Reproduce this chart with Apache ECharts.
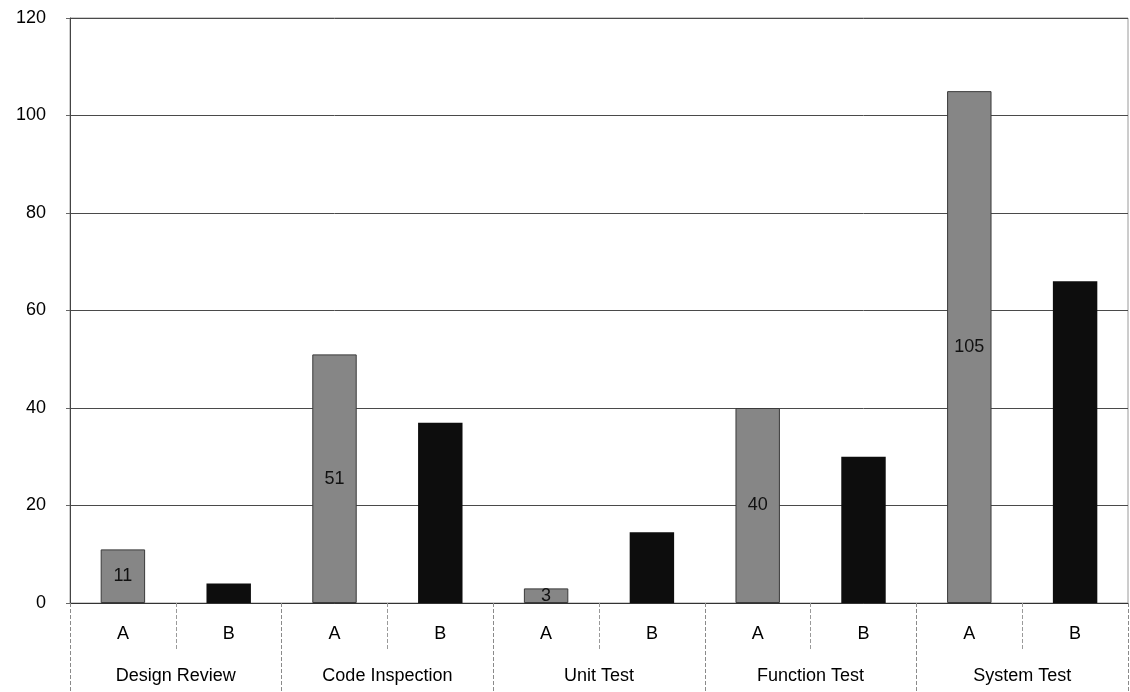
<!DOCTYPE html>
<html>
<head>
<meta charset="utf-8">
<title>Defects by phase</title>
<script src="https://cdn.jsdelivr.net/npm/echarts@6/dist/echarts.min.js"></script>
<style>
  html, body { margin: 0; padding: 0; background: #ffffff; }
  #chart { width: 1130px; height: 692px; }
</style>
</head>
<body>
<div id="chart"></div>
<script>
// Phases, each with an A and a B bar
const phases = ['Design Review', 'Code Inspection', 'Unit Test', 'Function Test', 'System Test'];
const subLabels = ['A', 'B'];
const valuesA = [11, 51, 3, 40, 105];
const valuesB = [4, 37, 14.5, 30, 66];
const yTicks = [0, 20, 40, 60, 80, 100, 120];

// One category per bar: A, B, A, B, ...
const barCategories = [];
const dataA = [];
const dataB = [];
phases.forEach((p, i) => {
  barCategories.push(subLabels[0], subLabels[1]);
  dataA.push(valuesA[i], '-');
  dataB.push('-', valuesB[i]);
});

const font = 'Liberation Sans, Arial, Helvetica, sans-serif';
const chart = echarts.init(document.getElementById('chart'));

chart.setOption({
  backgroundColor: '#ffffff',
  animation: false,
  grid: {
    left: 70, right: 2, top: 18, bottom: 89,
    show: true, borderColor: '#9a9a9a', borderWidth: 1, backgroundColor: 'transparent'
  },
  xAxis: [
    {
      type: 'category',
      data: barCategories,
      position: 'bottom',
      axisLine: { show: true, lineStyle: { color: '#333', width: 1 } },
      axisTick: { show: true, length: 46, lineStyle: { color: '#9a9a9a', type: 'dashed', width: 1 } },
      axisLabel: { color: '#000', fontSize: 18, fontFamily: font, margin: 22 },
      splitLine: { show: false }
    },
    {
      type: 'category',
      data: phases,
      position: 'bottom',
      axisLine: { show: false },
      axisTick: { show: true, length: 90, lineStyle: { color: '#8a8a8a', type: 'dashed', width: 1 } },
      axisLabel: { color: '#000', fontSize: 18, fontFamily: font, margin: 64 },
      splitLine: { show: false }
    }
  ],
  yAxis: {
    type: 'value',
    min: yTicks[0],
    max: yTicks[yTicks.length - 1],
    interval: yTicks[1] - yTicks[0],
    axisLine: { show: true, lineStyle: { color: '#444', width: 1 } },
    axisTick: { show: true, length: 4, lineStyle: { color: '#666' } },
    axisLabel: { color: '#000', fontSize: 18, fontFamily: font, margin: 24 },
    splitLine: { show: true, lineStyle: { color: '#4a4a4a', width: 1 } }
  },
  series: [
    {
      name: 'A',
      type: 'bar',
      xAxisIndex: 0,
      stack: 'phase',
      barWidth: '42%',
      data: dataA,
      itemStyle: { color: '#868686', borderColor: '#3a3a3a', borderWidth: 1 },
      label: {
        show: true,
        position: 'inside',
        color: '#111',
        fontSize: 18,
        fontFamily: font
      }
    },
    {
      name: 'B',
      type: 'bar',
      xAxisIndex: 0,
      stack: 'phase',
      barWidth: '42%',
      data: dataB,
      itemStyle: { color: '#0d0d0d' }
    }
  ]
});
</script>
</body>
</html>
